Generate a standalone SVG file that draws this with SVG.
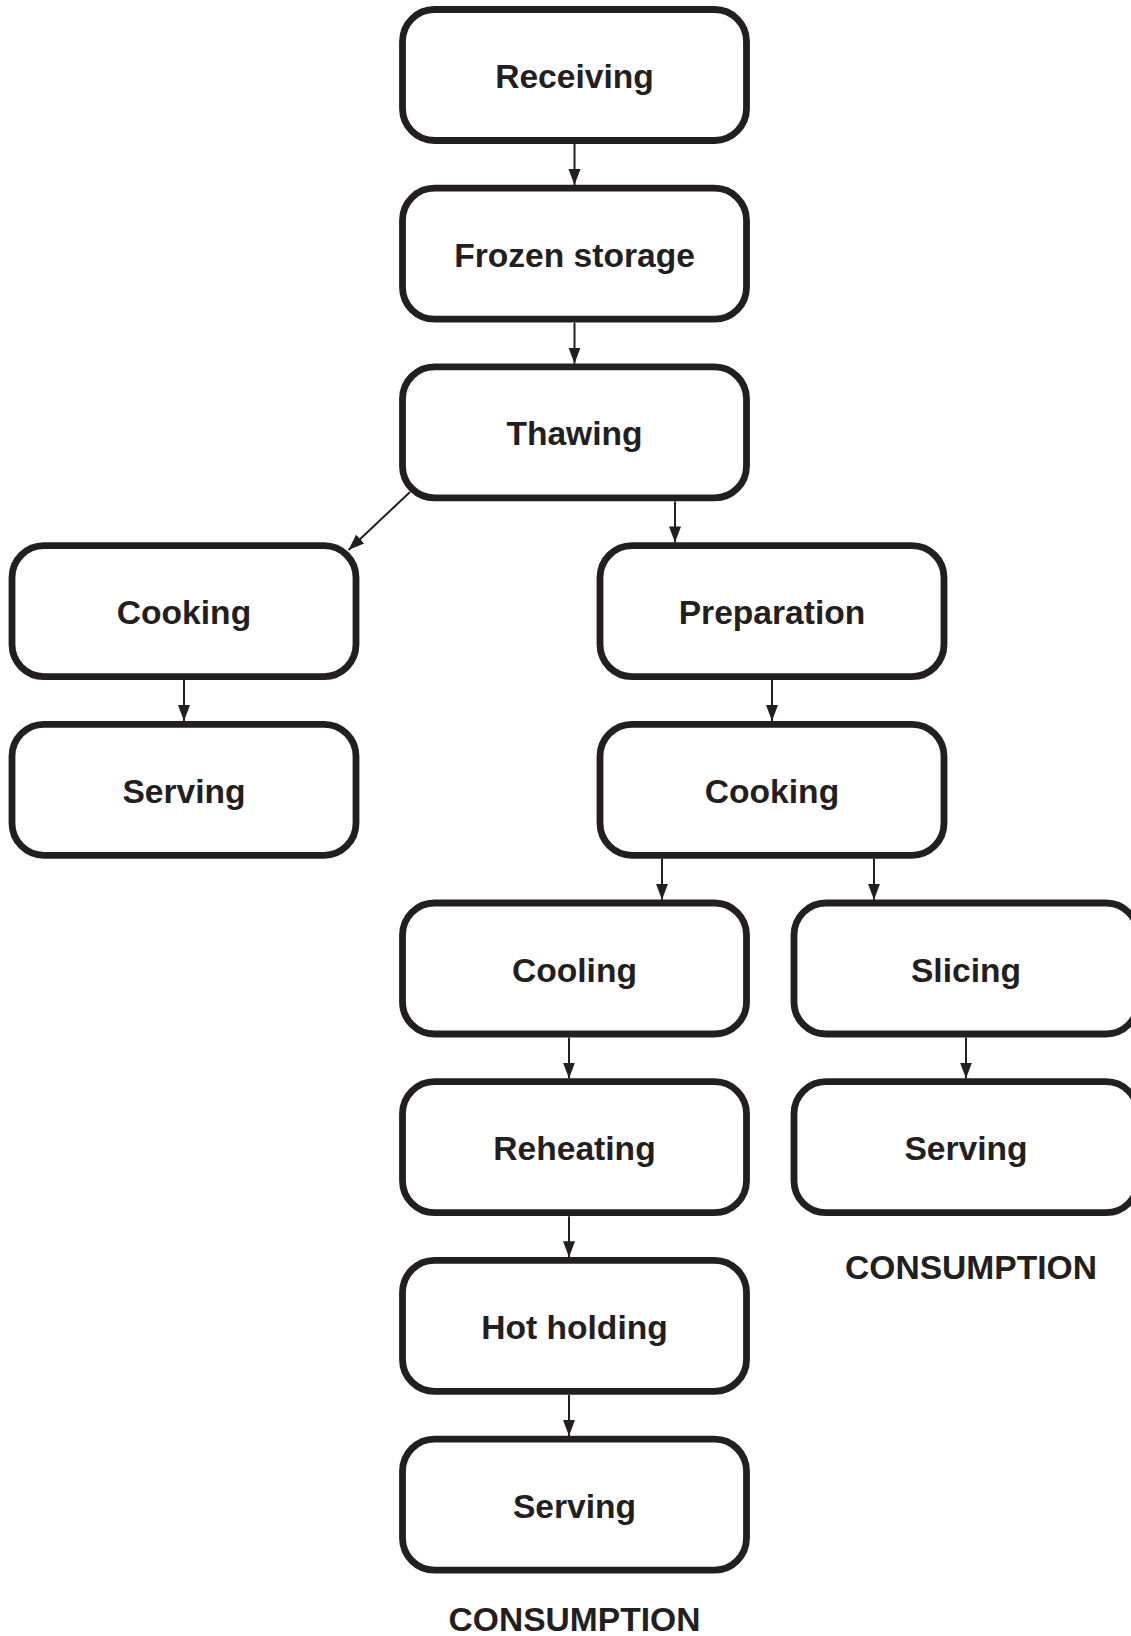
<svg xmlns="http://www.w3.org/2000/svg" width="1131" height="1636" viewBox="0 0 1131 1636">
<style>
.box{fill:#ffffff;stroke:#231f20;stroke-width:6.8}
.lbl{font-family:"Liberation Sans",Arial,Helvetica,sans-serif;font-weight:bold;font-size:33.6px;fill:#231f20;text-anchor:middle}
.con{stroke:#231f20;stroke-width:2;fill:none}
</style>
<defs>
<marker id="ah" markerUnits="userSpaceOnUse" markerWidth="17" markerHeight="13" refX="16" refY="6" orient="auto">
<path d="M0,0 L16,6 L0,12 z" fill="#231f20"/>
</marker>
</defs>
<rect width="1131" height="1636" fill="#ffffff"/>
<g id="n-receiving"><rect class="box" x="402.5" y="9.5" width="344" height="131" rx="32"/><text class="lbl" x="574.5" y="88">Receiving</text></g>
<g id="n-frozen"><rect class="box" x="402.5" y="188.2" width="344" height="131" rx="32"/><text class="lbl" x="574.5" y="266.7">Frozen storage</text></g>
<g id="n-thawing"><rect class="box" x="402.5" y="366.9" width="344" height="131" rx="32"/><text class="lbl" x="574.5" y="445.4">Thawing</text></g>
<g id="n-cooking-left"><rect class="box" x="12" y="545.6" width="344" height="131" rx="32"/><text class="lbl" x="184" y="624.1">Cooking</text></g>
<g id="n-serving-left"><rect class="box" x="12" y="724.3" width="344" height="131" rx="32"/><text class="lbl" x="184" y="802.8">Serving</text></g>
<g id="n-preparation"><rect class="box" x="600" y="545.6" width="344" height="131" rx="32"/><text class="lbl" x="772" y="624.1">Preparation</text></g>
<g id="n-cooking-right"><rect class="box" x="600" y="724.3" width="344" height="131" rx="32"/><text class="lbl" x="772" y="802.8">Cooking</text></g>
<g id="n-cooling"><rect class="box" x="402.5" y="903" width="344" height="131" rx="32"/><text class="lbl" x="574.5" y="981.5">Cooling</text></g>
<g id="n-reheating"><rect class="box" x="402.5" y="1081.7" width="344" height="131" rx="32"/><text class="lbl" x="574.5" y="1160.2">Reheating</text></g>
<g id="n-hotholding"><rect class="box" x="402.5" y="1260.4" width="344" height="131" rx="32"/><text class="lbl" x="574.5" y="1338.9">Hot holding</text></g>
<g id="n-serving-center"><rect class="box" x="402.5" y="1439.1" width="344" height="131" rx="32"/><text class="lbl" x="574.5" y="1517.6">Serving</text></g>
<g id="n-slicing"><rect class="box" x="794" y="903" width="344" height="131" rx="32"/><text class="lbl" x="966" y="981.5">Slicing</text></g>
<g id="n-serving-right"><rect class="box" x="794" y="1081.7" width="344" height="131" rx="32"/><text class="lbl" x="966" y="1160.2">Serving</text></g>
<g id="labels">
<text class="lbl" x="971" y="1279">CONSUMPTION</text>
<text class="lbl" x="574.5" y="1631">CONSUMPTION</text>
</g>
<g id="connectors">
<line class="con" x1="574.5" y1="144" x2="574.5" y2="185" marker-end="url(#ah)"/>
<line class="con" x1="574.5" y1="322.7" x2="574.5" y2="363.7" marker-end="url(#ah)"/>
<line class="con" x1="410" y1="492" x2="348.5" y2="550" marker-end="url(#ah)"/>
<line class="con" x1="675" y1="501.4" x2="675" y2="542.4" marker-end="url(#ah)"/>
<line class="con" x1="184" y1="680.1" x2="184" y2="721.1" marker-end="url(#ah)"/>
<line class="con" x1="772" y1="680.1" x2="772" y2="721.1" marker-end="url(#ah)"/>
<line class="con" x1="662" y1="858.8" x2="662" y2="899.8" marker-end="url(#ah)"/>
<line class="con" x1="874" y1="858.8" x2="874" y2="899.8" marker-end="url(#ah)"/>
<line class="con" x1="569" y1="1037.5" x2="569" y2="1078.5" marker-end="url(#ah)"/>
<line class="con" x1="569" y1="1216.2" x2="569" y2="1257.2" marker-end="url(#ah)"/>
<line class="con" x1="569" y1="1394.9" x2="569" y2="1435.9" marker-end="url(#ah)"/>
<line class="con" x1="966" y1="1037.5" x2="966" y2="1078.5" marker-end="url(#ah)"/>
</g>
</svg>
